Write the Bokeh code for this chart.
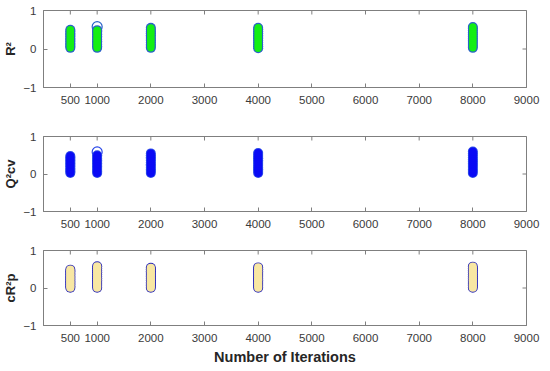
import math
from bokeh.plotting import figure
from bokeh.layouts import column
from bokeh.models import FixedTicker, Range1d
from bokeh.embed import file_html
from bokeh.resources import INLINE

# ---- data ----
iterations = [500, 1000, 2000, 4000, 8000]
x_ticks = [500, 1000, 2000, 3000, 4000, 5000, 6000, 7000, 8000, 9000]
y_ticks = [-1, 0, 1]

r2_values = [
    [0.03, 0.07, 0.11, 0.15, 0.20, 0.24, 0.28, 0.33, 0.37, 0.41, 0.46, 0.50],
    [0.03, 0.07, 0.12, 0.16, 0.20, 0.25, 0.29, 0.33, 0.38, 0.42, 0.46, 0.49],
    [0.03, 0.08, 0.12, 0.17, 0.22, 0.26, 0.31, 0.36, 0.41, 0.45, 0.50, 0.55],
    [0.02, 0.07, 0.12, 0.17, 0.22, 0.27, 0.31, 0.36, 0.41, 0.46, 0.51, 0.55],
    [0.03, 0.08, 0.13, 0.18, 0.23, 0.28, 0.33, 0.38, 0.43, 0.48, 0.53, 0.57],
]
r2_open_x = [1000]
r2_open_y = [0.58]

q2cv_values = [
    [0.03, 0.07, 0.11, 0.15, 0.20, 0.24, 0.28, 0.32, 0.36, 0.40, 0.44, 0.48],
    [0.03, 0.07, 0.11, 0.16, 0.20, 0.24, 0.29, 0.33, 0.37, 0.41, 0.46, 0.50],
    [0.03, 0.08, 0.12, 0.17, 0.22, 0.26, 0.31, 0.36, 0.41, 0.45, 0.50, 0.55],
    [0.03, 0.08, 0.13, 0.17, 0.22, 0.27, 0.32, 0.37, 0.42, 0.46, 0.51, 0.56],
    [0.03, 0.08, 0.13, 0.19, 0.24, 0.29, 0.34, 0.39, 0.44, 0.50, 0.55, 0.60],
]
q2cv_open_x = [1000]
q2cv_open_y = [0.59]

cr2p_values = [
    [0.01, 0.05, 0.10, 0.14, 0.18, 0.23, 0.27, 0.31, 0.36, 0.40, 0.45, 0.49],
    [0.01, 0.06, 0.11, 0.16, 0.21, 0.26, 0.31, 0.36, 0.42, 0.47, 0.53, 0.58],
    [0.01, 0.06, 0.11, 0.15, 0.20, 0.25, 0.30, 0.35, 0.40, 0.45, 0.50, 0.54],
    [0.01, 0.06, 0.11, 0.16, 0.21, 0.25, 0.30, 0.35, 0.40, 0.45, 0.50, 0.55],
    [0.01, 0.06, 0.11, 0.16, 0.21, 0.26, 0.31, 0.36, 0.42, 0.47, 0.52, 0.57],
]
cr2p_open_x = []
cr2p_open_y = []

FONT = "Liberation Sans"
AX_COLOR = "#7f7f7f"
TXT_COLOR = "#3a3a3a"
X_MIN, X_MAX = 0, 9000
Y_MIN, Y_MAX = -1, 1


def flatten(vals):
    xs, ys = [], []
    for it, col in zip(iterations, vals):
        for v in col:
            xs.append(it)
            ys.append(v)
    return xs, ys


def make_panel(label, vals, open_x, open_y, fill, edge, edge_w, height,
               b_top, b_bottom, xlabel=None):
    p = figure(width=541, height=height, output_backend="svg",
               toolbar_location=None, x_range=Range1d(X_MIN, X_MAX),
               y_range=Range1d(Y_MIN, Y_MAX), min_border_left=42,
               min_border_right=15, min_border_top=b_top,
               min_border_bottom=b_bottom)
    p.grid.visible = False
    p.outline_line_color = AX_COLOR
    p.outline_line_width = 1
    p.background_fill_color = "white"
    p.border_fill_color = "white"

    for ax in (p.xaxis[0], p.yaxis[0]):
        ax.axis_line_color = AX_COLOR
        ax.major_tick_line_color = AX_COLOR
        ax.major_tick_in = 4
        ax.major_tick_out = 0
        ax.minor_tick_line_color = None
        ax.major_label_text_font = FONT
        ax.major_label_text_font_size = "11.5px"
        ax.major_label_text_color = TXT_COLOR
        ax.axis_label_text_font = FONT
        ax.axis_label_text_font_style = "bold"
        ax.axis_label_text_color = "#262626"
    p.xaxis[0].ticker = FixedTicker(ticks=x_ticks)
    p.yaxis[0].ticker = FixedTicker(ticks=y_ticks)
    p.xaxis[0].major_label_standoff = 8
    p.yaxis[0].major_label_standoff = 7
    p.yaxis[0].axis_label = label
    p.yaxis[0].axis_label_text_font_size = "13px"
    p.yaxis[0].axis_label_standoff = 2
    if xlabel:
        p.xaxis[0].axis_label = xlabel
        p.xaxis[0].axis_label_text_font_size = "14.5px"
        p.xaxis[0].axis_label_standoff = 4

    # mirrored inward ticks on the top and right edges of the box
    p.scatter(x_ticks, [Y_MAX] * len(x_ticks), marker="dash", size=8,
              angle=math.pi / 2, line_color=AX_COLOR, line_width=1)
    p.scatter([X_MAX] * len(y_ticks), y_ticks, marker="dash", size=8,
              line_color=AX_COLOR, line_width=1)

    xs, ys = flatten(vals)
    if open_x:
        p.scatter(open_x, open_y, size=10, marker="circle",
                  fill_color="white", line_color=edge, line_width=1.2)
    p.scatter(xs, ys, size=10, marker="circle", fill_color=edge,
              line_color=None)
    p.scatter(xs, ys, size=10 - 2 * edge_w, marker="circle",
              fill_color=fill, line_color=None)
    return p


p1 = make_panel("R²", r2_values, r2_open_x, r2_open_y,
                "#14ee14", "#2a62c8", 1.3, 130, 10, 43)
p2 = make_panel("Q²cv", q2cv_values, q2cv_open_x, q2cv_open_y,
                "#0a0af5", "#2a48e8", 1.0, 114, 6, 33)
p3 = make_panel("cR²p", cr2p_values, cr2p_open_x, cr2p_open_y,
                "#f8e7a3", "#2a2ab8", 0.9, 125, 6, 44,
                xlabel="Number of Iterations")

layout = column(p1, p2, p3, spacing=0)
open("out.html", "w").write(file_html(layout, INLINE))
